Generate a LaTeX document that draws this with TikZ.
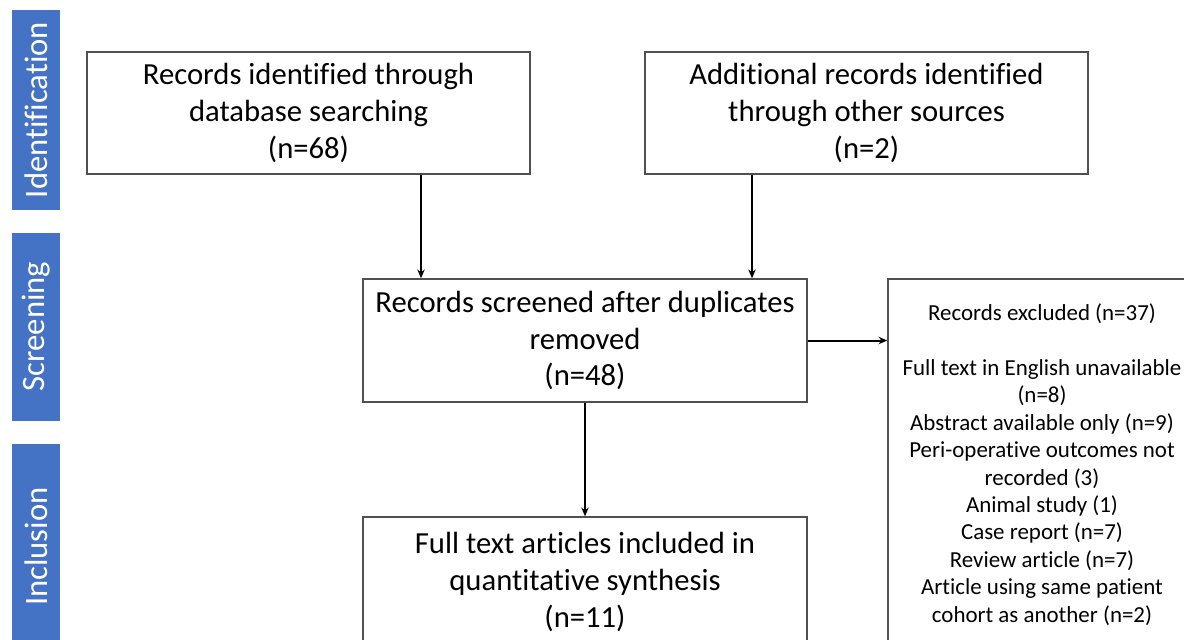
\documentclass[tikz,border=0pt]{standalone}
\usepackage{fontspec}
\setmainfont{Carlito}[Ligatures=NoCommon]
\usetikzlibrary{arrows.meta}
\definecolor{barblue}{HTML}{4472C4}
\definecolor{boxgray}{HTML}{505050}
\begin{document}
\begin{tikzpicture}[x=0.75pt,y=-0.75pt,
  bar/.style={fill=barblue,draw=none,text=white,inner sep=0pt,anchor=center},
  bartext/.style={text=white,rotate=90,font=\fontsize{24.5}{28}\selectfont},
  mainbox/.style={draw=boxgray,line width=1.1pt,fill=white,align=center,inner sep=0pt,
     font=\fontsize{23}{27.5}\selectfont},
  sidebox/.style={draw=boxgray,line width=1.1pt,fill=white,align=center,inner sep=0pt,
     font=\fontsize{17.2}{20.6}\selectfont},
  arr/.style={line width=1.5pt,-{Stealth[length=6.5pt,width=5.5pt]}}]
\clip (0,0) rectangle (1184,639);
\fill[white] (0,0) rectangle (1184,639);
% side bars
\node[bar,minimum width=36pt,minimum height=150pt] (idbar) at (36,110) {};
\node[bartext] (idtxt) at (idbar.center) {Identification};
\node[bar,minimum width=36pt,minimum height=141pt] (scbar) at (36,326.5) {};
\node[bartext] (sctxt) at (scbar.center) {Screening};
\node[bar,minimum width=36pt,minimum height=150pt] (inbar) at (36,544) {};
\node[bartext] (intxt) at ([yshift=-2.0pt]inbar.center) {Inclusion};
% boxes
\node[mainbox,minimum width=332.25pt,minimum height=91.5pt] (b1) at (308.5,113)
  {Records identified through\\database searching\\(n=68)};
\node[mainbox,minimum width=332.25pt,minimum height=91.5pt] (b2) at (866.5,113)
  {Additional records identified\\through other sources\\(n=2)};
\node[mainbox,minimum width=333pt,minimum height=92.25pt] (b3) at (585,340.5)
  {Records screened after duplicates\\removed\\(n=48)};
\node[mainbox,minimum width=333pt,minimum height=97.5pt] (b4) at (585,582)
  {Full text articles included in\\quantitative synthesis\\(n=11)};
\node[sidebox,minimum width=231pt,minimum height=278pt] (b5) at (1042,464.5)
  {Records excluded (n=37)\\[20.6pt]Full text in English unavailable\\(n=8)\\Abstract available only (n=9)\\Peri-operative outcomes not\\recorded (3)\\Animal study (1)\\Case report (n=7)\\Review article (n=7)\\Article using same patient\\cohort as another (n=2)};
% arrows
\coordinate (c1) at (421,0);
\coordinate (c2) at (752,0);
\draw[arr] (b1.south -| c1) -- (b3.north -| c1);
\draw[arr] (b2.south -| c2) -- (b3.north -| c2);
\draw[arr] (b3.south) -- (b4.north);
\draw[arr] (b3.east) -- (b5.west |- b3.east);
\end{tikzpicture}
\end{document}
